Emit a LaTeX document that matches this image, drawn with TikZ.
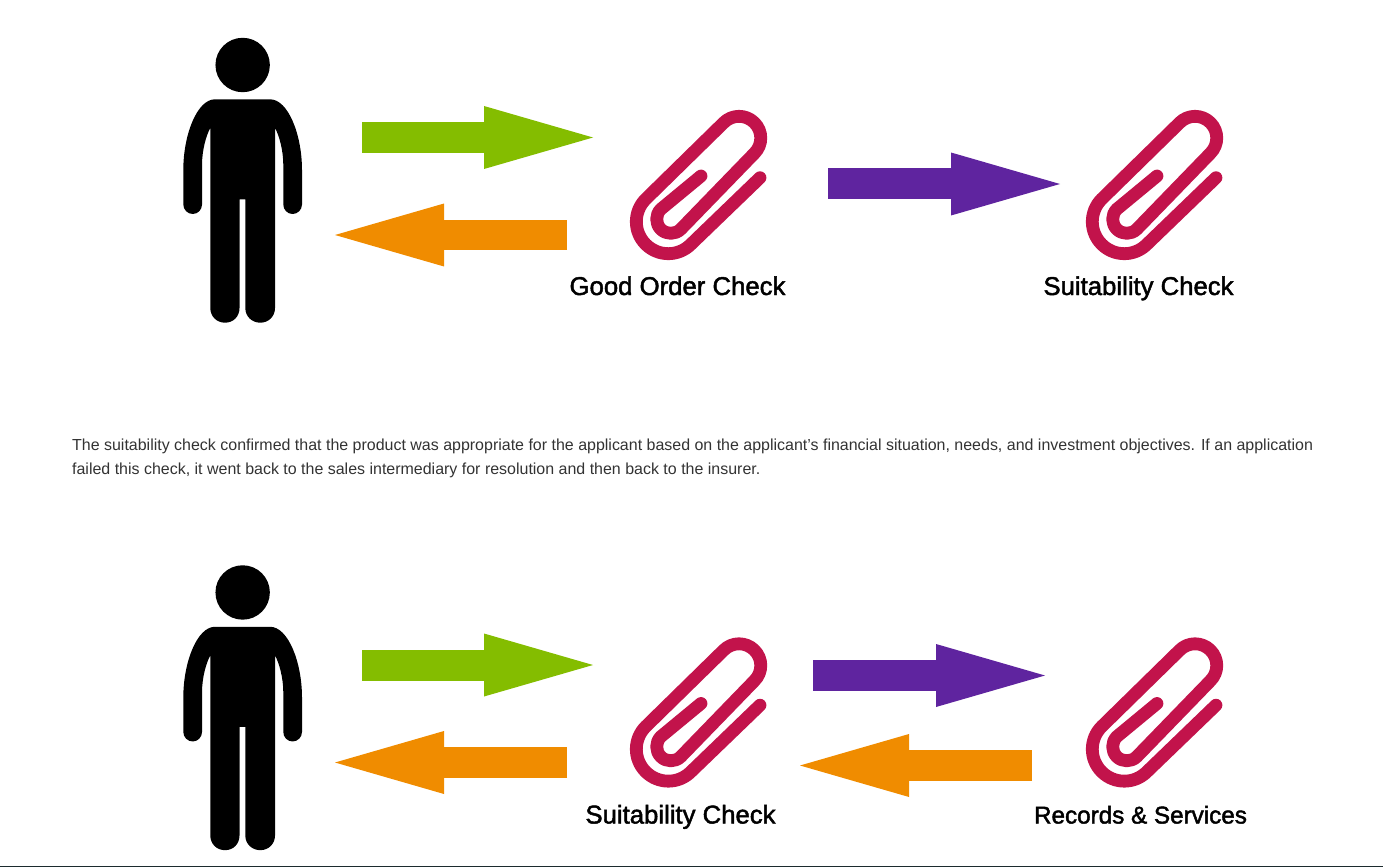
\documentclass[tikz,border=0pt]{standalone}
\usepackage{fontspec}
\setmainfont{Liberation Sans}
\newfontfamily\lblfont[FakeBold=1.8]{Liberation Sans}
\usetikzlibrary{arrows.meta}
\definecolor{cGreen}{HTML}{84BD00}
\definecolor{cOrange}{HTML}{F08C00}
\definecolor{cPurple}{HTML}{5F249F}
\definecolor{cClip}{HTML}{C2134B}
\definecolor{cBody}{HTML}{333333}
\definecolor{cRule}{HTML}{1C2B2E}
\tikzset{
    x=0.05cm, y=-0.05cm,
    flow/.style={-{Triangle[length=5.45cm, width=3.15cm, line width=0pt]}, line width=1.55cm},
    clipline/.style={draw=cClip, line width=0.64cm, line cap=round, line join=round},
    lbl/.style={font=\lblfont\fontsize{36.6}{40}\selectfont, text=black, inner sep=0pt, anchor=base},
    para/.style={font=\fontsize{22.73}{34.14}\selectfont, text=cBody, inner sep=0pt,
                 align=left, anchor=west},
}
\newcommand{\persona}{%
    \fill (242.65,65) circle [radius=1.36cm];
    \fill (215,99.3) -- (270,99.3) .. controls (288.3,99.3) and (302,135) .. (302,170)
        -- (302,204.5) .. controls (302,209.7) and (297.7,214) .. (292.6,214)
        .. controls (287.4,214) and (283.3,209.7) .. (283.3,204.5)
        -- (283.3,165) .. controls (283.3,150) and (279,135) .. (275,128)
        -- (275,308) .. controls (275,316.5) and (268.5,322.7) .. (260.3,322.7)
        .. controls (252,322.7) and (245.3,316.5) .. (245.3,308)
        -- (245.3,199.3) -- (239.5,199.3) -- (239.5,308)
        .. controls (239.5,316.5) and (233.3,322.7) .. (225,322.7)
        .. controls (216.8,322.7) and (210.3,316.5) .. (210.3,308)
        -- (210.3,128) .. controls (206.3,135) and (202,150) .. (202,165)
        -- (202,204.5) .. controls (202,209.7) and (197.9,214) .. (192.7,214)
        .. controls (187.6,214) and (183.3,209.7) .. (183.3,204.5)
        -- (183.3,170) .. controls (183.3,135) and (197,99.3) .. (215,99.3) -- cycle;
}
\newcommand{\clipo}{%
    \draw[clipline] (760,177.7) -- (690.9,244.3)
        .. controls (678.4,256.8) and (658.2,256.8) .. (645.7,244.3)
        .. controls (633.2,231.8) and (633.2,211.6) .. (645.7,199.1)
        -- (723.7,122.7)
        .. controls (732.2,114.2) and (745.9,114.2) .. (754.4,122.7)
        .. controls (762.9,131.2) and (762.9,144.8) .. (754.4,153.3)
        -- (680.8,229.2)
        .. controls (675.3,234.7) and (666.3,234.7) .. (660.8,229.2)
        .. controls (655.3,223.7) and (655.3,214.7) .. (660.8,209.2)
        -- (701,176);
}

\begin{document}
\begin{tikzpicture}
    \useasboundingbox (0,0) rectangle (1383,867);

    % fila de arriba
    \persona
    \clipo
    \begin{scope}[xshift=22.8cm]
        \clipo
    \end{scope}
    \node[lbl] (goodLbl) at (677.5,295) {Good Order Check};
    \node[lbl] (suitLbl) at (1138.5,295) {Suitability Check};

    \coordinate (aOut) at (362,137.5);
    \coordinate (aIn) at (593,137.5);
    \coordinate (bOut) at (567,235);
    \coordinate (bIn) at (335,235);
    \coordinate (cOut) at (828,184);
    \coordinate (cIn) at (1060,184);
    \draw[flow, cGreen] (aOut) -- (aIn);
    \draw[flow, cOrange] (bOut) -- (bIn);
    \draw[flow, cPurple] (cOut) -- (cIn);

    \node[para] (parrafo) at (72,458)
        {The suitability check confirmed that the product was appropriate for the applicant based on the applicant’s financial situation, needs, and investment objectives. If an application\\
        failed this check, it went back to the sales intermediary for resolution and then back to the insurer.};

    % fila de abajo
    \begin{scope}[yshift=-26.375cm]
        \persona
        \clipo
    \end{scope}
    \begin{scope}[xshift=22.8cm, yshift=-26.375cm]
        \clipo
    \end{scope}
    \node[lbl] (suitLblB) at (680.5,823.5) {Suitability Check};
    \node[lbl, font=\lblfont\fontsize{34.5}{40}\selectfont] (recLbl) at (1140.5,823.5) {Records \& Services};

    \coordinate (dOut) at (362,665);
    \coordinate (dIn) at (593,665);
    \coordinate (eOut) at (567,762.5);
    \coordinate (eIn) at (335,762.5);
    \coordinate (fOut) at (813,675.5);
    \coordinate (fIn) at (1045,675.5);
    \coordinate (gOut) at (1032,765.5);
    \coordinate (gIn) at (800,765.5);
    \draw[flow, cGreen] (dOut) -- (dIn);
    \draw[flow, cOrange] (eOut) -- (eIn);
    \draw[flow, cPurple] (fOut) -- (fIn);
    \draw[flow, cOrange] (gOut) -- (gIn);

    \fill[cRule] (0,866) rectangle (1383,867);
\end{tikzpicture}
\end{document}
